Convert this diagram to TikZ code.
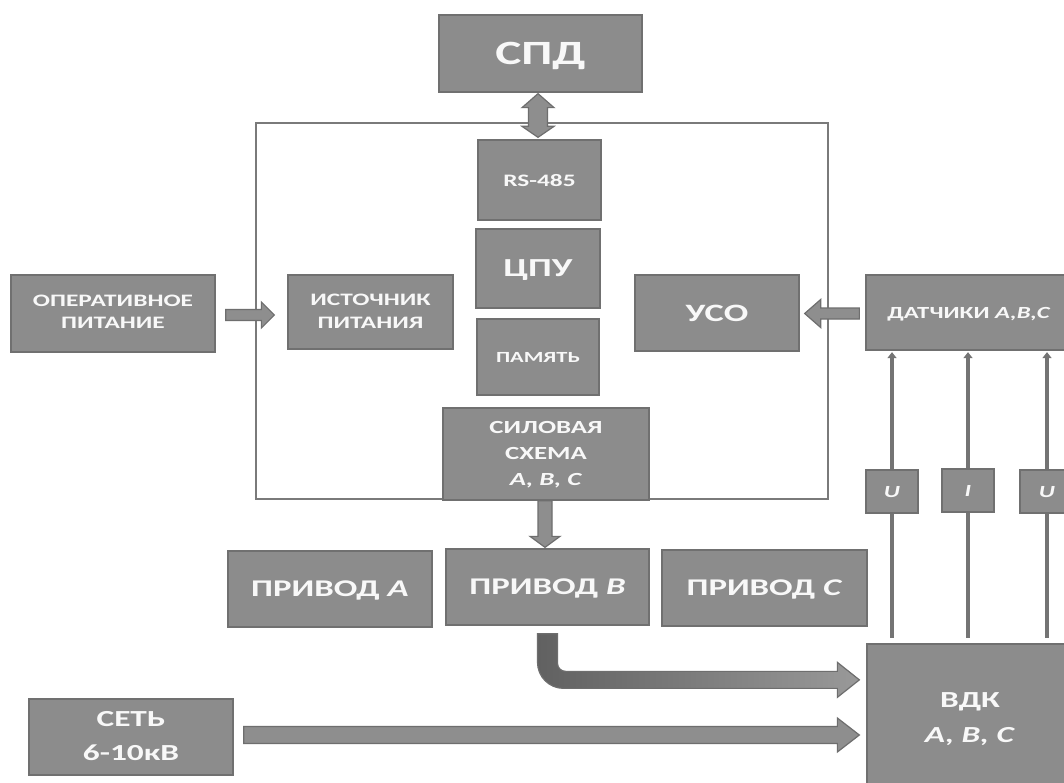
\documentclass[tikz,border=0pt]{standalone}
\usepackage{fontspec}
\setmainfont{Carlito}
\usepackage{graphicx}
\usetikzlibrary{arrows.meta,calc}
\definecolor{boxfill}{HTML}{8C8C8C}
\definecolor{boxline}{HTML}{707070}
\definecolor{frameline}{HTML}{7A7A7A}
\definecolor{arrfill}{HTML}{8E8E8E}
\definecolor{arrline}{HTML}{6E6E6E}
\definecolor{sigcol}{HTML}{747474}
\definecolor{txt}{HTML}{F8F8F8}
\newcommand{\ws}[1]{\scalebox{1.45}[1]{#1}}
\newcommand{\wl}[1]{\scalebox{1.45}[1]{\begin{tabular}{@{}c@{}}#1\end{tabular}}}
\newcommand{\fs}[2]{\fontsize{#1}{#2}\selectfont}
% horizontal block arrow: start, end, shaft half width, head half width, signed head offset
\newcommand{\harrow}[5]{%
 \filldraw[barrow] let \p1=#1, \p2=#2 in
  ({\x1},{\y1+#3}) -- ({\x2+#5},{\y1+#3}) -- ({\x2+#5},{\y1+#4}) -- ({\x2},{\y1})
  -- ({\x2+#5},{\y1-#4}) -- ({\x2+#5},{\y1-#3}) -- ({\x1},{\y1-#3}) -- cycle;}
% vertical block arrow
\newcommand{\varrow}[5]{%
 \filldraw[barrow] let \p1=#1, \p2=#2 in
  ({\x1-#3},{\y1}) -- ({\x1-#3},{\y2+#5}) -- ({\x1-#4},{\y2+#5}) -- ({\x1},{\y2})
  -- ({\x1+#4},{\y2+#5}) -- ({\x1+#3},{\y2+#5}) -- ({\x1+#3},{\y1}) -- cycle;}
\begin{document}
\begin{tikzpicture}[x=1pt,y=-1pt,
  box/.style={draw=boxline, fill=boxfill, line width=1.3pt, text=txt, inner sep=0pt, font=\bfseries},
  one/.style={text depth=0pt},
  barrow/.style={draw=arrline, fill=arrfill, line width=1.2pt, line join=miter},
  sigl/.style={draw=sigcol, line width=3.5pt},
  sig/.style={sigl, -{Triangle[length=6pt,width=9pt]}},
  frm/.style={draw=frameline, line width=1.3pt, inner sep=0pt}]
\useasboundingbox (0,0) rectangle (1064,783);
\fill[white] (0,0) rectangle (1064,783);
\clip (0,0) rectangle (1064,783);

% frame
\node[frm, minimum width=572pt, minimum height=376pt] (frame) at (542,311) {};

% boxes
\node[box, one, minimum width=203pt, minimum height=77pt, font=\bfseries\fs{34}{40}] (spd) at (540.5,53.5) {\ws{СПД}};
\node[box, one, minimum width=123pt, minimum height=80pt, font=\bfseries\fs{17.5}{22}] (rs) at (539.5,180) {\ws{RS-485}};
\node[box, one, minimum width=124pt, minimum height=79pt, font=\bfseries\fs{26}{30}] (cpu) at (538,268.5) {\ws{ЦПУ}};
\node[box, one, minimum width=122pt, minimum height=76pt, font=\bfseries\fs{15.5}{20}] (mem) at (538,357) {\ws{ПАМЯТЬ}};
\node[box, minimum width=206pt, minimum height=92pt, font=\bfseries\fs{18.5}{26}] (sil) at (546,454) {\wl{СИЛОВАЯ\\СХЕМА\\\textit{А, В, С}}};
\node[box, minimum width=204pt, minimum height=77pt, font=\bfseries\fs{17.5}{22}] (op) at (113,313.5) {\wl{ОПЕРАТИВНОЕ\\ПИТАНИЕ}};
\node[box, minimum width=165pt, minimum height=74pt, font=\bfseries\fs{17.5}{23}] (ist) at (370.5,312) {\wl{ИСТОЧНИК\\ПИТАНИЯ}};
\node[box, one, minimum width=164pt, minimum height=76pt, font=\bfseries\fs{25}{30}] (uso) at (717,313) {\ws{УСО}};
\node[box, one, minimum width=206pt, minimum height=75pt, font=\bfseries\fs{17}{20}] (dat) at (969,312.5) {\ws{ДАТЧИКИ \textit{А,В,С}}};
\node[box, one, minimum width=204pt, minimum height=76pt, font=\bfseries\fs{24}{30}] (prA) at (330,589) {\ws{ПРИВОД \textit{А}}};
\node[box, one, minimum width=203pt, minimum height=76pt, font=\bfseries\fs{24}{30}] (prB) at (547.5,587) {\ws{ПРИВОД \textit{В}}};
\node[box, one, minimum width=205pt, minimum height=76pt, font=\bfseries\fs{24}{30}] (prC) at (764.5,588) {\ws{ПРИВОД \textit{С}}};
\node[box, one, minimum width=52pt, minimum height=43pt, font=\bfseries\itshape\fs{17}{20}] (u1) at (892,491.5) {\ws{U}};
\node[box, one, minimum width=52pt, minimum height=43pt, font=\bfseries\itshape\fs{17}{20}] (ii) at (968,490.5) {\ws{I}};
\node[box, one, minimum width=54pt, minimum height=43pt, font=\bfseries\itshape\fs{17}{20}] (u2) at (1047,491.5) {\ws{U}};
\node[box, minimum width=206pt, minimum height=148pt, font=\bfseries\fs{23}{35}] (vdk) at (970,718) {\wl{ВДК\\\textit{А, В, С}}};
\node[box, minimum width=204pt, minimum height=76pt, font=\bfseries\fs{23}{34}] (set) at (131,737) {\wl{СЕТЬ\\6-10кВ}};

% signal lines
\foreach \n in {u1,ii,u2}{
  \draw[sigl, shorten >=5pt] (\n.south) -- (\n.south |- vdk.north);
  \draw[sig, shorten >=1.5pt] (\n.north) -- (\n.north |- dat.south);
}

% block arrows
\harrow{($(op.east)+(10,1.5)$)}{($(ist.west)+(-13,0)$)}{5.5pt}{13pt}{-13pt}
\harrow{($(dat.west)+(-6,1)$)}{($(uso.east)+(5,0)$)}{5.5pt}{14pt}{16pt}
\harrow{($(set.east)+(10,-2)$)}{($(vdk.west)+(-7,0)$)}{8.5pt}{17pt}{-22pt}
\varrow{($(sil.south)+(-1,0)$)}{($(prB.north)+(0,-1)$)}{7pt}{15pt}{11pt}

% double arrow SPD <-> RS-485
\filldraw[barrow] let \p1=($(spd.south)+(0,1)$), \p2=($(rs.north)+(-1.5,-2)$) in
  ({\x2},{\y1}) -- ({\x2+16pt},{\y1-14pt}) -- ({\x2+9.5pt},{\y1-14pt}) -- ({\x2+9.5pt},{\y2+11pt})
  -- ({\x2+16pt},{\y2+11pt}) -- ({\x2},{\y2}) -- ({\x2-16pt},{\y2+11pt}) -- ({\x2-9.5pt},{\y2+11pt})
  -- ({\x2-9.5pt},{\y1-14pt}) -- ({\x2-16pt},{\y1-14pt}) -- cycle;

% curved arrow from PRIVOD B to VDK
\path[draw=arrline, line width=1.2pt, left color=black!62, right color=black!40]
  let \p1=($(prB.south)+(0,8)$), \p2=($(vdk.north west)+(-7,36.5)$) in
  ({\x1-10pt},{\y1}) -- ({\x1-10pt},{\y2-8.5pt+26pt})
  arc[start angle=180, end angle=270, radius=26pt]
  -- ({\x2-22pt},{\y2-8.5pt}) -- ({\x2-22pt},{\y2-17.5pt}) -- ({\x2},{\y2})
  -- ({\x2-22pt},{\y2+17.5pt}) -- ({\x2-22pt},{\y2+8.5pt}) -- ({\x1+18pt},{\y2+8.5pt})
  arc[start angle=270, end angle=180, radius=8pt]
  -- ({\x1+10pt},{\y1}) -- cycle;
\end{tikzpicture}
\end{document}
